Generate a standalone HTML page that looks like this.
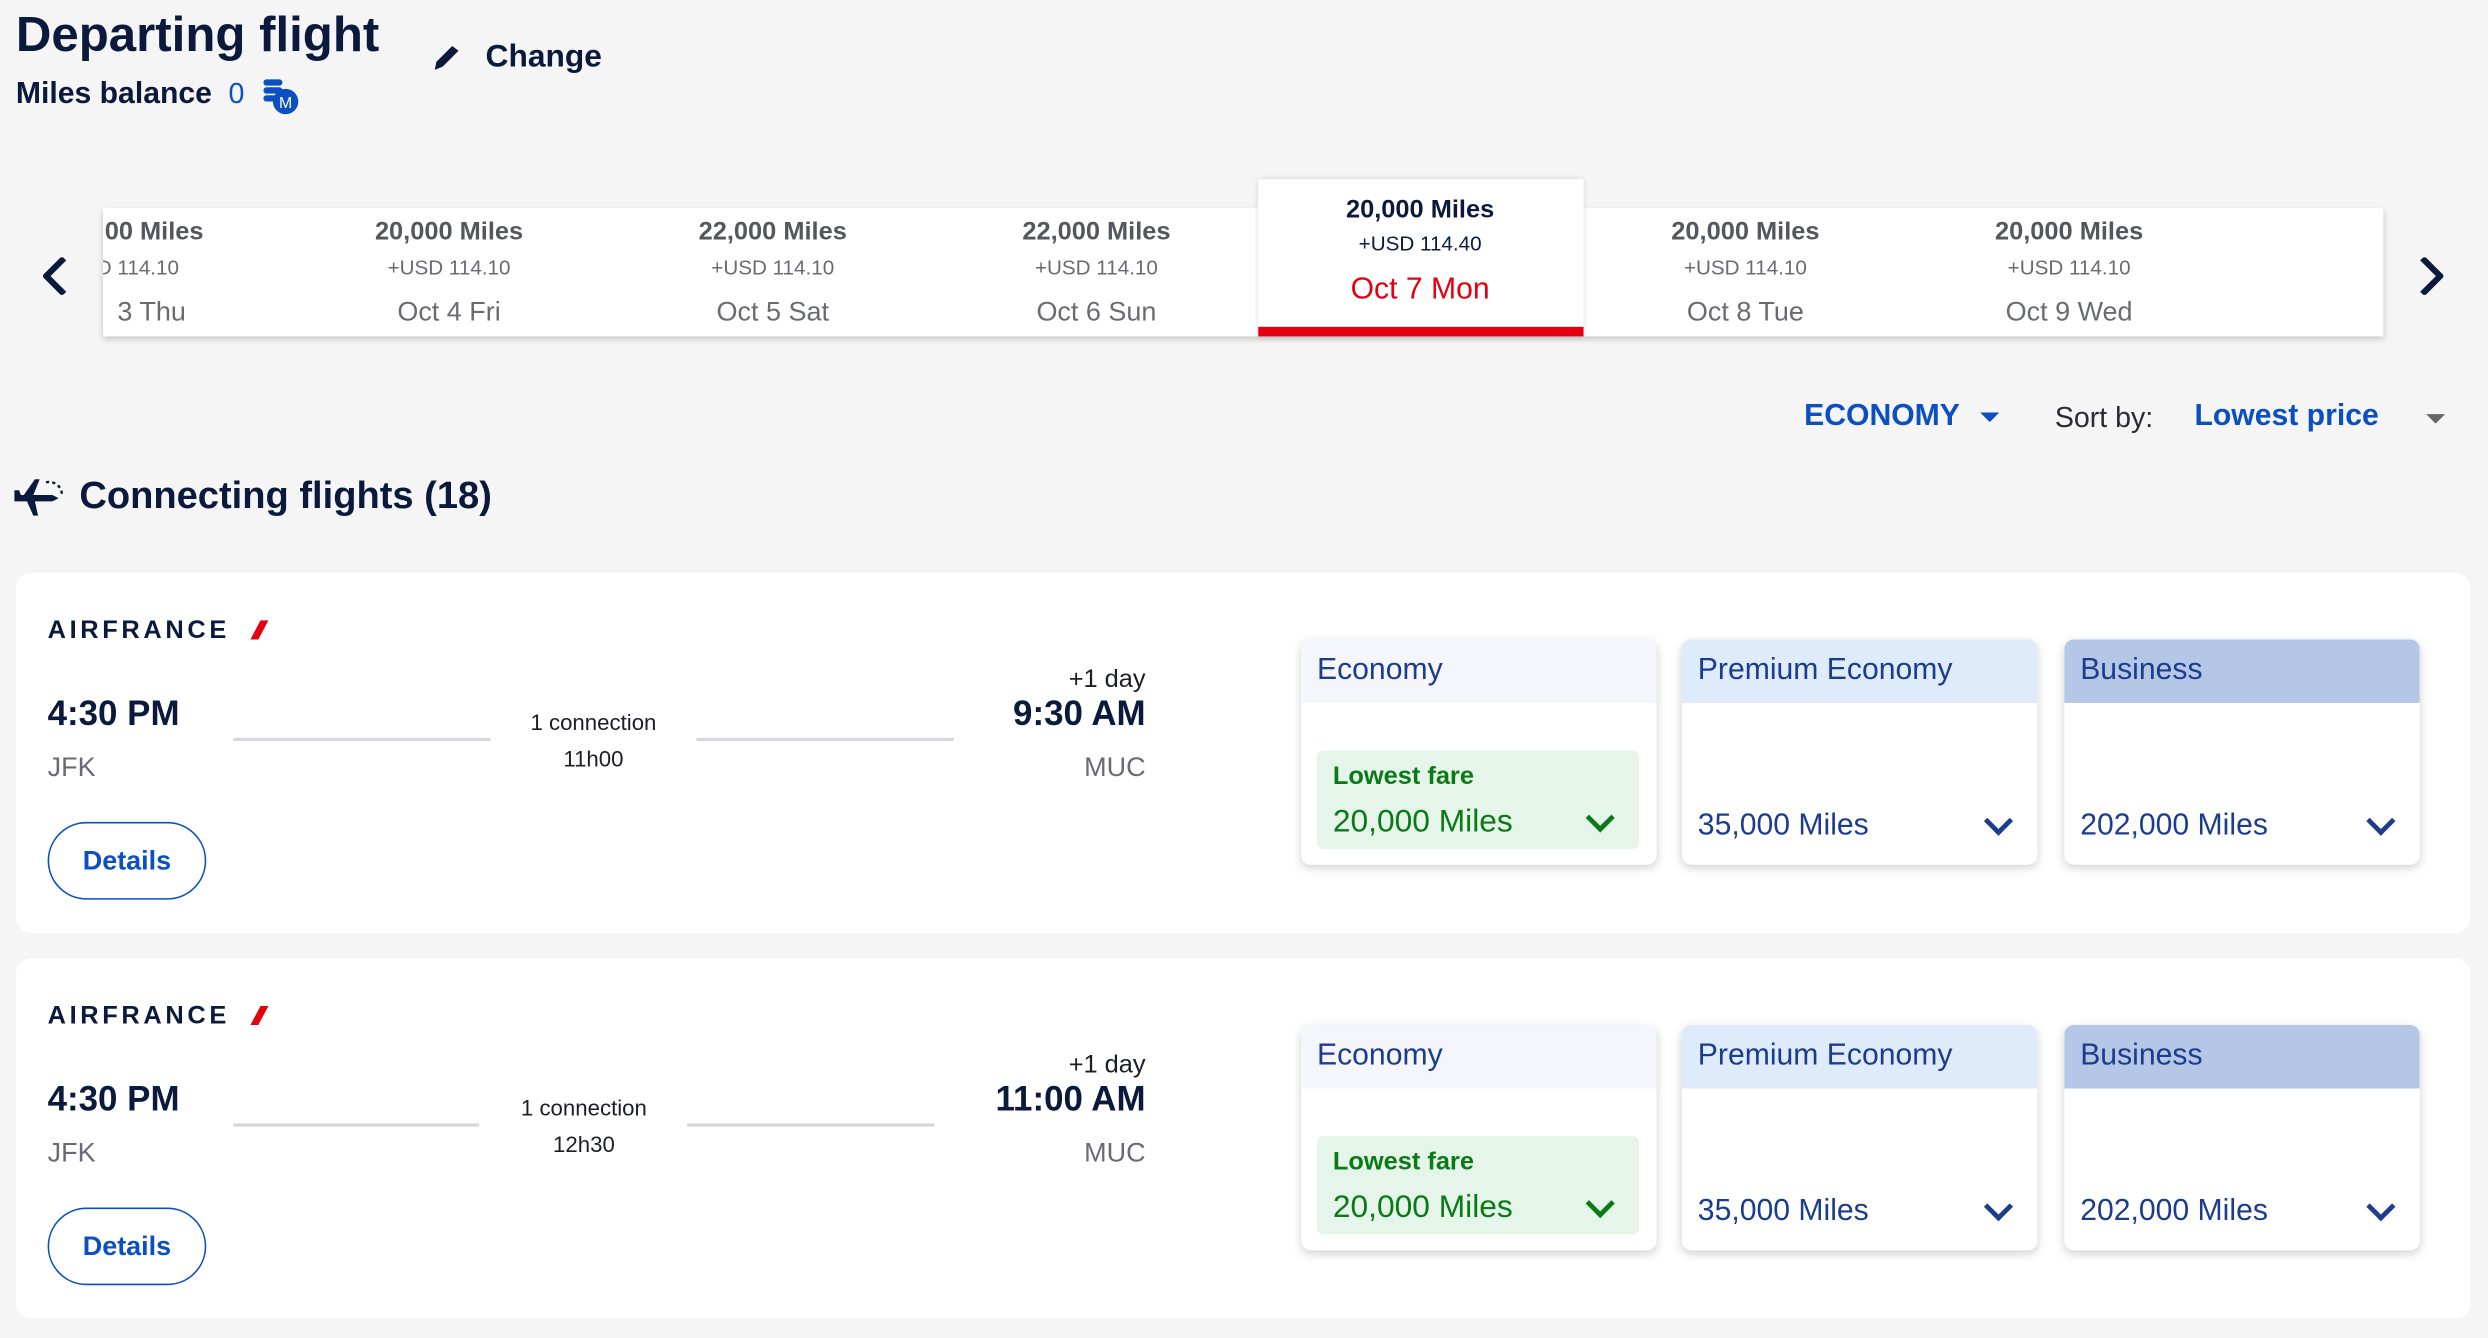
<!DOCTYPE html>
<html><head><meta charset="utf-8"><style>
html,body{margin:0;padding:0;background:#f5f5f5;overflow:hidden}
#w{position:absolute;left:0;top:0;width:1568px;height:843px;transform:scale(1.58673);transform-origin:0 0;font-family:"Liberation Sans",sans-serif;background:#f5f5f5}
.t{position:absolute;white-space:nowrap;line-height:1;margin-top:2px}
.b{font-weight:bold}
.c{transform:translateX(-50%)}
.r{transform:translateX(-100%)}
.card{position:absolute;left:10px;width:1547px;height:227px;background:#fff;border-radius:10px}
.fare{position:absolute;top:42px;width:224px;height:142px;background:#fff;border-radius:6px;box-shadow:0 2px 6px rgba(0,0,0,.18);overflow:hidden}
.fh{height:40px;}
.fare .t{color:#1c3c8c}
.line{position:absolute;height:2px;background:#d6d6dc}
.chev{position:absolute;width:10px;height:10px;border-right:3px solid #1c3c8c;border-bottom:3px solid #1c3c8c;transform:rotate(45deg)}
.det{position:absolute;left:20px;top:157px;width:98px;height:47px;border:1.5px solid #0b4fc0;border-radius:25px}
.af{left:20px;top:27px;font-size:16px;color:#0b1a3c;letter-spacing:2.3px}
</style></head><body><div id="w">
<div class="t b" style="left:10px;top:4px;font-size:31px;color:#0b1a3c">Departing flight</div>
<svg style="position:absolute;left:272px;top:27px" width="20" height="18" viewBox="0 0 20 18"><path d="M2 17 L3 12 L13 2 L17 5 L7 15 Z" fill="#0b1a3c"/></svg>
<div class="t b" style="left:306px;top:24px;font-size:20px;color:#0b1a3c">Change</div>
<div class="t b" style="left:10px;top:48px;font-size:19px;color:#0b1a3c">Miles balance</div>
<div class="t" style="left:144px;top:48px;font-size:18px;color:#0b4fc0">0</div>
<svg style="position:absolute;left:166px;top:49px" width="24" height="24"><rect x="0" y="1" width="12" height="4" rx="2" fill="#0b4fc0"/><rect x="0" y="6" width="12" height="4" rx="2" fill="#0b4fc0"/><rect x="0" y="11" width="12" height="4" rx="2" fill="#0b4fc0"/><circle cx="14" cy="15" r="8" fill="#0b4fc0"/><text x="14" y="19" font-size="10" fill="#fff" text-anchor="middle" font-family="Liberation Sans">M</text></svg>

<div style="position:absolute;left:65px;top:131px;width:1437px;height:81px;background:#fff;box-shadow:0 2px 4px rgba(0,0,0,.2)"></div>
<div style="position:absolute;left:793px;top:113px;width:205px;height:99px;background:#fff;box-shadow:0 0 4px rgba(0,0,0,.15)"></div>
<div style="position:absolute;left:793px;top:206px;width:205px;height:6px;background:#e3000f"></div>
<div style="position:absolute;left:65px;top:131px;width:150px;height:81px;overflow:hidden">
<div class="t b" style="left:1px;top:6px;font-size:16px;color:#55565e">00 Miles</div>
<div class="t" style="left:-4px;top:29px;font-size:13px;color:#6a6b72">D 114.10</div>
<div class="t" style="left:9px;top:55px;font-size:17px;color:#6a6b72">3 Thu</div></div>
<div class="t b c" style="left:283px;top:137px;font-size:16px;color:#55565e">20,000 Miles</div>
<div class="t c" style="left:283px;top:160px;font-size:13px;color:#6a6b72">+USD 114.10</div>
<div class="t c" style="left:283px;top:186px;font-size:17px;color:#6a6b72">Oct 4 Fri</div>
<div class="t b c" style="left:487px;top:137px;font-size:16px;color:#55565e">22,000 Miles</div>
<div class="t c" style="left:487px;top:160px;font-size:13px;color:#6a6b72">+USD 114.10</div>
<div class="t c" style="left:487px;top:186px;font-size:17px;color:#6a6b72">Oct 5 Sat</div>
<div class="t b c" style="left:691px;top:137px;font-size:16px;color:#55565e">22,000 Miles</div>
<div class="t c" style="left:691px;top:160px;font-size:13px;color:#6a6b72">+USD 114.10</div>
<div class="t c" style="left:691px;top:186px;font-size:17px;color:#6a6b72">Oct 6 Sun</div>
<div class="t b c" style="left:895px;top:123px;font-size:16px;color:#0b1a3c">20,000 Miles</div>
<div class="t c" style="left:895px;top:145px;font-size:13px;color:#0b1a3c">+USD 114.40</div>
<div class="t c" style="left:895px;top:171px;font-size:19px;color:#e3000f">Oct 7 Mon</div>
<div class="t b c" style="left:1100px;top:137px;font-size:16px;color:#55565e">20,000 Miles</div>
<div class="t c" style="left:1100px;top:160px;font-size:13px;color:#6a6b72">+USD 114.10</div>
<div class="t c" style="left:1100px;top:186px;font-size:17px;color:#6a6b72">Oct 8 Tue</div>
<div class="t b c" style="left:1304px;top:137px;font-size:16px;color:#55565e">20,000 Miles</div>
<div class="t c" style="left:1304px;top:160px;font-size:13px;color:#6a6b72">+USD 114.10</div>
<div class="t c" style="left:1304px;top:186px;font-size:17px;color:#6a6b72">Oct 9 Wed</div>
<div style="position:absolute;left:30px;top:165px;width:14px;height:14px;border-left:4px solid #0b1a3c;border-bottom:4px solid #0b1a3c;transform:rotate(45deg);border-radius:2px"></div>
<div style="position:absolute;left:1519px;top:165px;width:14px;height:14px;border-right:4px solid #0b1a3c;border-top:4px solid #0b1a3c;transform:rotate(45deg);border-radius:2px"></div>

<div class="t b" style="left:1137px;top:251px;font-size:19px;color:#0b4fc0">ECONOMY</div>
<div style="position:absolute;left:1248px;top:260px;border-left:6px solid transparent;border-right:6px solid transparent;border-top:6px solid #0b4fc0"></div>
<div class="t" style="left:1295px;top:252px;font-size:18px;color:#2a2b33">Sort by:</div>
<div class="t b" style="left:1383px;top:251px;font-size:19px;color:#0b4fc0">Lowest price</div>
<div style="position:absolute;left:1529px;top:261px;border-left:6px solid transparent;border-right:6px solid transparent;border-top:6px solid #666"></div>

<svg style="position:absolute;left:9px;top:300px" width="32" height="26" viewBox="0 0 32 26"><path d="M0 12 H24 L28 14 L24 16 H0Z M6 12 L13 2 H16 L12 12Z M8 16 L12 25 H15 L13 16Z M0 9 L3 9 L5 14 L0 14Z" fill="#0b1a3c"/><path d="M20 4 A8 8 0 0 1 30 12" stroke="#0b1a3c" stroke-width="1.5" stroke-dasharray="2 2" fill="none"/></svg>
<div class="t b" style="left:50px;top:299px;font-size:24px;color:#0b1a3c">Connecting flights (18)</div>

<!-- cards -->
<div class="card" style="top:361px">
<div class="t b af" style="">AIRFRANCE</div>
<div style="position:absolute;left:151px;top:30px;width:5px;height:12px;background:#e3000f;transform:skewX(-28deg)"></div>
<div class="t b" style="left:20px;top:76px;font-size:22px;color:#0b1a3c">4:30 PM</div>
<div class="t" style="left:20px;top:112px;font-size:17px;color:#6a6b72">JFK</div>
<div class="line" style="left:137px;top:104px;width:162px"></div>
<div class="t c" style="left:364px;top:85px;font-size:14px;color:#1c1d26">1 connection</div>
<div class="t c" style="left:364px;top:108px;font-size:14px;color:#1c1d26">11h00</div>
<div class="line" style="left:429px;top:104px;width:162px"></div>
<div class="t r" style="left:712px;top:58px;font-size:16px;color:#1c1d26">+1 day</div>
<div class="t b r" style="left:712px;top:76px;font-size:22px;color:#0b1a3c">9:30 AM</div>
<div class="t r" style="left:712px;top:112px;font-size:17px;color:#6a6b72">MUC</div>
<div class="det"></div><div class="t b c" style="left:70px;top:171px;font-size:17px;color:#0b4fc0">Details</div>
<div class="fare" style="left:810px"><div class="fh" style="background:#f5f6fb"></div><div class="t" style="left:10px;top:8px;font-size:19px">Economy</div>
<div style="position:absolute;left:10px;top:70px;width:203px;height:62px;background:#e6f5e9;border-radius:4px"></div>
<div class="t b" style="left:20px;top:77px;font-size:16px;color:#0a7a16">Lowest fare</div>
<div class="t" style="left:20px;top:103px;font-size:20px;color:#0a7a16">20,000 Miles</div>
<div class="chev" style="left:182px;top:106px;border-color:#0a7a16"></div></div>
<div class="fare" style="left:1050px"><div class="fh" style="background:#deebfb"></div><div class="t" style="left:10px;top:8px;font-size:19px">Premium Economy</div>
<div class="t" style="left:10px;top:106px;font-size:19px">35,000 Miles</div><div class="chev" style="left:193px;top:108px"></div></div>
<div class="fare" style="left:1291px"><div class="fh" style="background:#b4c7e7"></div><div class="t" style="left:10px;top:8px;font-size:19px">Business</div>
<div class="t" style="left:10px;top:106px;font-size:19px">202,000 Miles</div><div class="chev" style="left:193px;top:108px"></div></div>
</div>

<div class="card" style="top:604px">
<div class="t b af">AIRFRANCE</div>
<div style="position:absolute;left:151px;top:30px;width:5px;height:12px;background:#e3000f;transform:skewX(-28deg)"></div>
<div class="t b" style="left:20px;top:76px;font-size:22px;color:#0b1a3c">4:30 PM</div>
<div class="t" style="left:20px;top:112px;font-size:17px;color:#6a6b72">JFK</div>
<div class="line" style="left:137px;top:104px;width:155px"></div>
<div class="t c" style="left:358px;top:85px;font-size:14px;color:#1c1d26">1 connection</div>
<div class="t c" style="left:358px;top:108px;font-size:14px;color:#1c1d26">12h30</div>
<div class="line" style="left:423px;top:104px;width:156px"></div>
<div class="t r" style="left:712px;top:58px;font-size:16px;color:#1c1d26">+1 day</div>
<div class="t b r" style="left:712px;top:76px;font-size:22px;color:#0b1a3c">11:00 AM</div>
<div class="t r" style="left:712px;top:112px;font-size:17px;color:#6a6b72">MUC</div>
<div class="det"></div><div class="t b c" style="left:70px;top:171px;font-size:17px;color:#0b4fc0">Details</div>
<div class="fare" style="left:810px"><div class="fh" style="background:#f5f6fb"></div><div class="t" style="left:10px;top:8px;font-size:19px">Economy</div>
<div style="position:absolute;left:10px;top:70px;width:203px;height:62px;background:#e6f5e9;border-radius:4px"></div>
<div class="t b" style="left:20px;top:77px;font-size:16px;color:#0a7a16">Lowest fare</div>
<div class="t" style="left:20px;top:103px;font-size:20px;color:#0a7a16">20,000 Miles</div>
<div class="chev" style="left:182px;top:106px;border-color:#0a7a16"></div></div>
<div class="fare" style="left:1050px"><div class="fh" style="background:#deebfb"></div><div class="t" style="left:10px;top:8px;font-size:19px">Premium Economy</div>
<div class="t" style="left:10px;top:106px;font-size:19px">35,000 Miles</div><div class="chev" style="left:193px;top:108px"></div></div>
<div class="fare" style="left:1291px"><div class="fh" style="background:#b4c7e7"></div><div class="t" style="left:10px;top:8px;font-size:19px">Business</div>
<div class="t" style="left:10px;top:106px;font-size:19px">202,000 Miles</div><div class="chev" style="left:193px;top:108px"></div></div>
</div>
</div></body></html>
